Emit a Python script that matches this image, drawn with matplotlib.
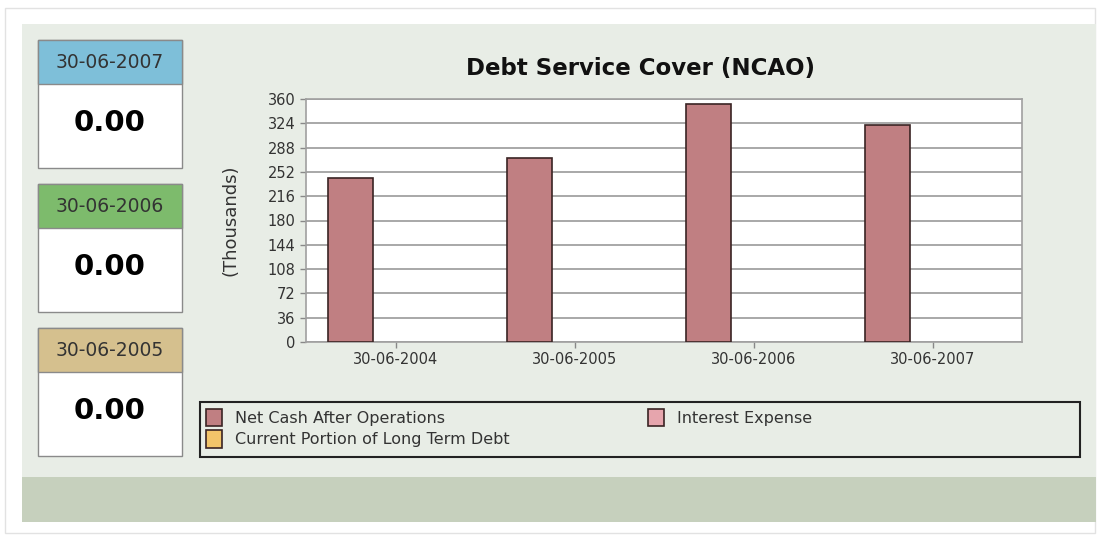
import matplotlib.pyplot as plt
from matplotlib.patches import Rectangle
import numpy as np

# Chart data
periods = ['30-06-2004', '30-06-2005', '30-06-2006', '30-06-2007']
net_cash = [243, 272, 353, 322]
interest_expense = [0, 0, 0, 0]
current_ltd = [0, 0, 0, 0]
series_names = ['Net Cash After Operations', 'Interest Expense', 'Current Portion of Long Term Debt']
series_colors = ['#c07f82', '#e6a5ad', '#f2c46a']

# Side summary cards
card_dates = ['30-06-2007', '30-06-2006', '30-06-2005']
card_values = [0.00, 0.00, 0.00]
card_colors = ['#7ebfd9', '#7dbb6c', '#d5c08e']

W, H = 1099, 536
plt.rcParams['font.family'] = ['DejaVu Sans']
fig = plt.figure(figsize=(W / 100, H / 100), dpi=100)
fig.patch.set_facecolor('white')


def px(x0, y0, x1, y1):
    # pixel box (top-left origin) -> figure fraction rect
    return [x0 / W, 1 - y1 / H, (x1 - x0) / W, (y1 - y0) / H]


bg = fig.add_axes([0, 0, 1, 1])
bg.set_xlim(0, W)
bg.set_ylim(H, 0)
bg.axis('off')
bg.add_patch(Rectangle((5, 8), 1090, 525, facecolor='white', edgecolor='#e2e2e2', lw=1))
bg.add_patch(Rectangle((22, 24), 1074, 498, facecolor='#e8ede6', edgecolor='none'))
bg.add_patch(Rectangle((22, 477), 1074, 45, facecolor='#c6d0bd', edgecolor='none'))

# summary cards on the left
for i, (d, v, c) in enumerate(zip(card_dates, card_values, card_colors)):
    top = 40 + i * 144
    bg.add_patch(Rectangle((38, top), 144, 128, facecolor='white', edgecolor='#8a8a8a', lw=1))
    bg.add_patch(Rectangle((38, top), 144, 44, facecolor=c, edgecolor='#8a8a8a', lw=1))
    bg.text(110, top + 22, d, ha='center', va='center', fontsize=13.5, color='#333333')
    bg.text(110, top + 83, f'{v:.2f}', ha='center', va='center', fontsize=21,
            fontweight='bold', color='black')

bg.text(640, 68, 'Debt Service Cover (NCAO)', ha='center', va='center', fontsize=16.5,
        fontweight='bold', color='#111111')

# legend frame
bg.add_patch(Rectangle((200, 402), 880, 55, facecolor='none', edgecolor='#222222', lw=1.5))

# bar chart
ax = fig.add_axes(px(306, 99, 1022, 342))
ax.set_facecolor('white')
x = np.arange(len(periods))
w = 0.25
for k, (vals, col, name) in enumerate(zip([net_cash, interest_expense, current_ltd],
                                          series_colors, series_names)):
    ax.bar(x + (k - 1) * w, vals, width=w, color=col, edgecolor='#3a2424',
           linewidth=[1.2 if v else 0 for v in vals], label=name, zorder=3)
ax.set_xlim(-0.5, len(periods) - 0.5)
ax.set_ylim(0, 360)
ax.set_yticks(np.arange(0, 361, 36))
ax.set_xticks(x)
ax.set_xticklabels(periods)
ax.yaxis.grid(True, color='#9a9a9a', lw=1.2, zorder=0)
ax.tick_params(axis='both', labelsize=10.5, colors='#888888', labelcolor='#333333',
               length=4, width=1)
for s in ax.spines.values():
    s.set_color('#a0a0a0')
    s.set_linewidth(1.2)
ax.set_ylabel('(Thousands)', fontsize=13, color='#333333', labelpad=20)

handles, labels = ax.get_legend_handles_labels()
leg_kw = dict(frameon=False, prop={'size': 11.5}, handlelength=1.0, handleheight=1.3,
              handletextpad=0.8, labelspacing=0.25, borderpad=0, borderaxespad=0,
              labelcolor='#333333')
leg1 = fig.legend([handles[0], handles[2]], [labels[0], labels[2]],
                  loc='upper left', bbox_to_anchor=(206 / W, 1 - 409 / H), **leg_kw)
leg2 = fig.legend([handles[1]], [labels[1]],
                  loc='upper left', bbox_to_anchor=(648 / W, 1 - 409 / H), **leg_kw)
for leg in (leg1, leg2):
    for h in leg.legend_handles:
        h.set_linewidth(1.2)
        h.set_edgecolor('#3a2424')

fig.savefig('out.png', dpi=100)
